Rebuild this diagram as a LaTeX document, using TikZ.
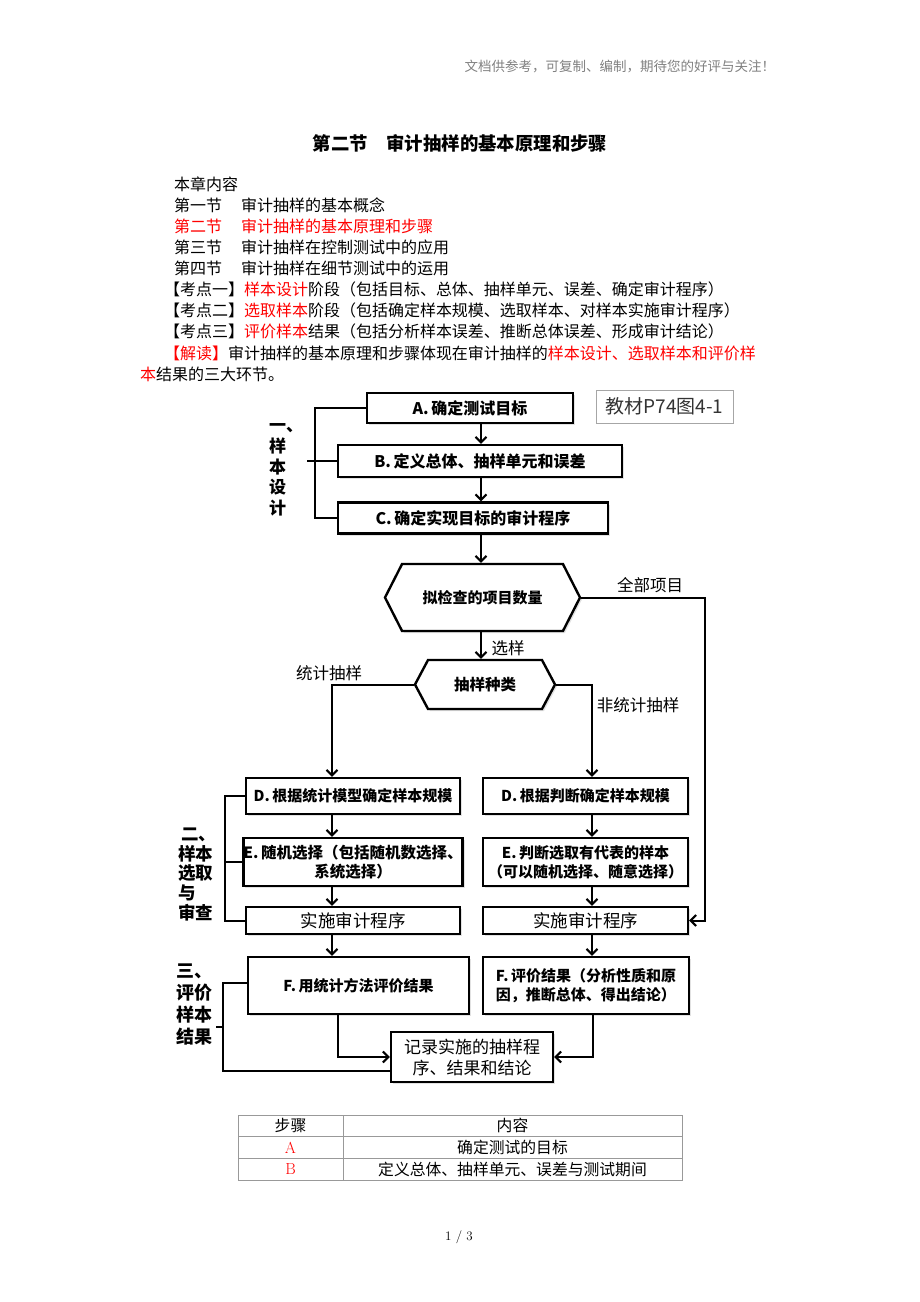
\documentclass[tikz,border=0pt]{standalone}
\usepackage{fontspec}
\newfontfamily\cjk{Noto Sans CJK SC}
\usetikzlibrary{arrows.meta, shapes.symbols, shadows}

\tikzset{
  txt/.style={anchor=west, inner sep=0pt, font=\cjk\fontsize{16}{21}\selectfont},
  caja/.style={draw, line width=2.4pt, fill=white, inner sep=2pt, align=center,
    drop shadow={shadow xshift=2pt, shadow yshift=-2pt, fill=gray!45},
    font=\cjk\bfseries\fontsize{15}{19}\selectfont},
  cajaup/.style={caja, font=\cjk\bfseries\fontsize{16}{19}\selectfont},
  hexa/.style={caja, shape=signal, signal to=west and east},
  simple/.style={caja, font=\cjk\fontsize{17.5}{21}\selectfont},
  rotulo/.style={inner sep=0pt, font=\cjk\fontsize{16.5}{20}\selectfont},
  lado/.style={anchor=west, inner sep=0pt, align=left},
  celda/.style={draw=gray!80, line width=0.9pt, inner sep=0pt, font=\cjk\fontsize{15.8}{18}\selectfont}
}

\begin{document}
\begin{tikzpicture}[x=1pt, y=-1pt, line width=2pt,
  >={Straight Barb[length=5.5pt, width=11pt]}]

  \useasboundingbox (0,0) rectangle (920,1302);

  % Encabezado y titulo
  \node[anchor=east, inner sep=0pt, text=gray, font=\cjk\fontsize{13.5}{16}\selectfont]
    (cab) at (776,66) {文档供参考，可复制、编制，期待您的好评与关注！};
  \node[font=\cjk\bfseries\fontsize{18.4}{22}\selectfont]
    (tit) at (460,143) {第二节\hspace{1em}审计抽样的基本原理和步骤};

  % Texto
  \node[txt] (l0) at (173,184) {本章内容};
  \node[txt] (l1) at (173,205) {第一节\hspace{1.2em}审计抽样的基本概念};
  \node[txt, text=red] (l2) at (173,226) {第二节\hspace{1.2em}审计抽样的基本原理和步骤};
  \node[txt] (l3) at (173,247) {第三节\hspace{1.2em}审计抽样在控制测试中的应用};
  \node[txt] (l4) at (173,268) {第四节\hspace{1.2em}审计抽样在细节测试中的运用};
  \node[txt] (l5) at (163,289) {【考点一】\textcolor{red}{样本设计}阶段（包括目标、总体、抽样单元、误差、确定审计程序）};
  \node[txt] (l6) at (163,310) {【考点二】\textcolor{red}{选取样本}阶段（包括确定样本规模、选取样本、对样本实施审计程序）};
  \node[txt] (l7) at (163,331) {【考点三】\textcolor{red}{评价样本}结果（包括分析样本误差、推断总体误差、形成审计结论）};
  \node[txt] (l8) at (163,353) {\textcolor{red}{【解读】}审计抽样的基本原理和步骤体现在审计抽样的\textcolor{red}{样本设计、选取样本和评价样}};
  \node[txt] (l9) at (139,374) {\textcolor{red}{本}结果的三大环节。};

  %-------------------------------------
  % DIAGRAMA
  %-------------------------------------
  % columnas de las flechas
  \coordinate (colM) at (481,0);
  \coordinate (colL) at (332,0);
  \coordinate (colR) at (592,0);
  \coordinate (colF) at (705,0);
  \coordinate (colJ) at (338,0);
  \coordinate (colK) at (593,0);

  % Etapa uno
  \node[cajaup, minimum width=206pt, minimum height=30pt] (a) at (470,408) {A.\,确定测试目标};
  \node[draw=gray!70, line width=1pt, minimum width=137pt, minimum height=33pt,
    text=black!80, font=\cjk\fontsize{19}{22}\selectfont] (fig) at (664.5,406.5) {教材P74图4-1};
  \node[cajaup, minimum width=284pt, minimum height=32pt] (b) at (480,461) {B.\,定义总体、抽样单元和误差};
  \node[cajaup, minimum width=270pt, minimum height=31pt] (c) at (473,518) {C.\,确定实现目标的审计程序};

  \node[hexa, signal pointer angle=126, minimum width=195pt, minimum height=67pt]
    (h1) at (482.5,597.5) {拟检查的项目数量};
  \node[hexa, signal pointer angle=124, minimum width=140pt, minimum height=49pt,
    font=\cjk\bfseries\fontsize{15.5}{19}\selectfont] (h2) at (485,684.5) {抽样种类};

  \node[rotulo] (qb) at (650,585) {全部项目};
  \node[rotulo] (xy) at (508,648) {选样};
  \node[rotulo] (tj) at (329,673) {统计抽样};
  \node[rotulo] (ftj) at (638,705) {非统计抽样};

  % Etapa dos
  \node[caja, minimum width=214pt, minimum height=36pt] (dl) at (353,796) {D.\,根据统计模型确定样本规模};
  \node[caja, minimum width=205pt, minimum height=36pt] (dr) at (585.5,796) {D.\,根据判断确定样本规模};
  \node[caja, minimum width=214pt, minimum height=48pt, inner sep=0pt,
    font=\cjk\bfseries\fontsize{15.5}{19}\selectfont] (el) at (353,862)
    {E.\,随机选择（包括随机数选择、\\系统选择）};
  \node[caja, minimum width=205pt, minimum height=48pt] (er) at (585.5,862)
    {E.\,判断选取有代表的样本\\（可以随机选择、随意选择）};
  \node[simple, minimum width=214pt, minimum height=27pt] (sl) at (353,920.5) {实施审计程序};
  \node[simple, minimum width=205pt, minimum height=27pt] (sr) at (585.5,920.5) {实施审计程序};

  % Etapa tres
  \node[caja, minimum width=221pt, minimum height=57pt] (fl) at (358.5,985.5) {F.\,用统计方法评价结果};
  \node[caja, minimum width=206pt, minimum height=57pt, align=left] (fr) at (586,985.5)
    {F.\,评价结果（分析性质和原\\因，推断总体、得出结论）};
  \node[simple, minimum width=162pt, minimum height=50pt, font=\cjk\fontsize{17}{21}\selectfont]
    (jl) at (472,1057) {记录实施的抽样程\\序、结果和结论};

  % Flechas
  \draw[->] (a.south -| colM) -- (b.north -| colM);
  \draw[->] (b.south -| colM) -- (c.north -| colM);
  \draw[->] (c.south -| colM) -- (h1.north -| colM);
  \draw[->] (h1.south -| colM) -- (h2.north -| colM);
  \draw[->] (h2.west) -| (dl.north -| colL);
  \draw[->] (h2.east) -| (dr.north -| colR);
  \draw[->] (h1.east) -| (sr.east -| colF) -- (sr.east);

  \draw[->] (dl.south -| colL) -- (el.north -| colL);
  \draw[->] (el.south -| colL) -- (sl.north -| colL);
  \draw[->] (sl.south -| colL) -- (fl.north -| colL);
  \draw[->] (dr.south -| colR) -- (er.north -| colR);
  \draw[->] (er.south -| colR) -- (sr.north -| colR);
  \draw[->] (sr.south -| colR) -- (fr.north -| colR);

  \draw[->] (fl.south -| colJ) |- (jl.west);
  \draw[->] (fr.south -| colK) |- (jl.east);

  % Llaves de las etapas
  \coordinate (br1) at (315,0);
  \coordinate (t1) at (307,461);
  \draw (a.west) -| (c.west -| br1) -- (c.west);
  \draw (t1) -- (b.west);

  \coordinate (br2) at (225,0);
  \draw (dl.west) -| (sl.west -| br2) -- (sl.west);
  \draw (br2 |- el.west) -- (el.west);

  \coordinate (b3top) at (223,983);
  \coordinate (b3bot) at (223,1071);
  \coordinate (t3) at (216,1027);
  \draw (b3top -| fl.west) -- (b3top) -- (b3bot) -- (b3bot -| jl.west);
  \draw (t3) -- (t3 -| b3bot);

  \node[lado, font=\cjk\bfseries\fontsize{17}{20.75}\selectfont] (s1) at (268,470)
    {一、\\样\\本\\设\\计};
  \node[lado, font=\cjk\bfseries\fontsize{17.5}{19.75}\selectfont] (s2) at (177,874.5)
    {\hspace{3pt}二、\\样本\\选取\\与\\审查};
  \node[lado, font=\cjk\bfseries\fontsize{18}{22.3}\selectfont] (s3) at (175,1004.5)
    {三、\\评价\\样本\\结果};

  %-------------------------------------
  % TABLA
  %-------------------------------------
  \node[celda, minimum width=105pt, minimum height=21.7pt] (t11) at (290.5,1125.8) {步骤};
  \node[celda, minimum width=339pt, minimum height=21.7pt] (t12) at (512.5,1125.8) {内容};
  \node[celda, minimum width=105pt, minimum height=21.7pt, text=red, font=\fontsize{16}{18}\selectfont]
    (t21) at (290.5,1147.5) {A};
  \node[celda, minimum width=339pt, minimum height=21.7pt] (t22) at (512.5,1147.5) {确定测试的目标};
  \node[celda, minimum width=105pt, minimum height=21.7pt, text=red, font=\fontsize{16}{18}\selectfont]
    (t31) at (290.5,1169.2) {B};
  \node[celda, minimum width=339pt, minimum height=21.7pt] (t32) at (512.5,1169.2) {定义总体、抽样单元、误差与测试期间};

  % Pagina
  \node[font=\fontsize{13}{15}\selectfont] (pag) at (459,1237) {1 / 3};

\end{tikzpicture}
\end{document}
